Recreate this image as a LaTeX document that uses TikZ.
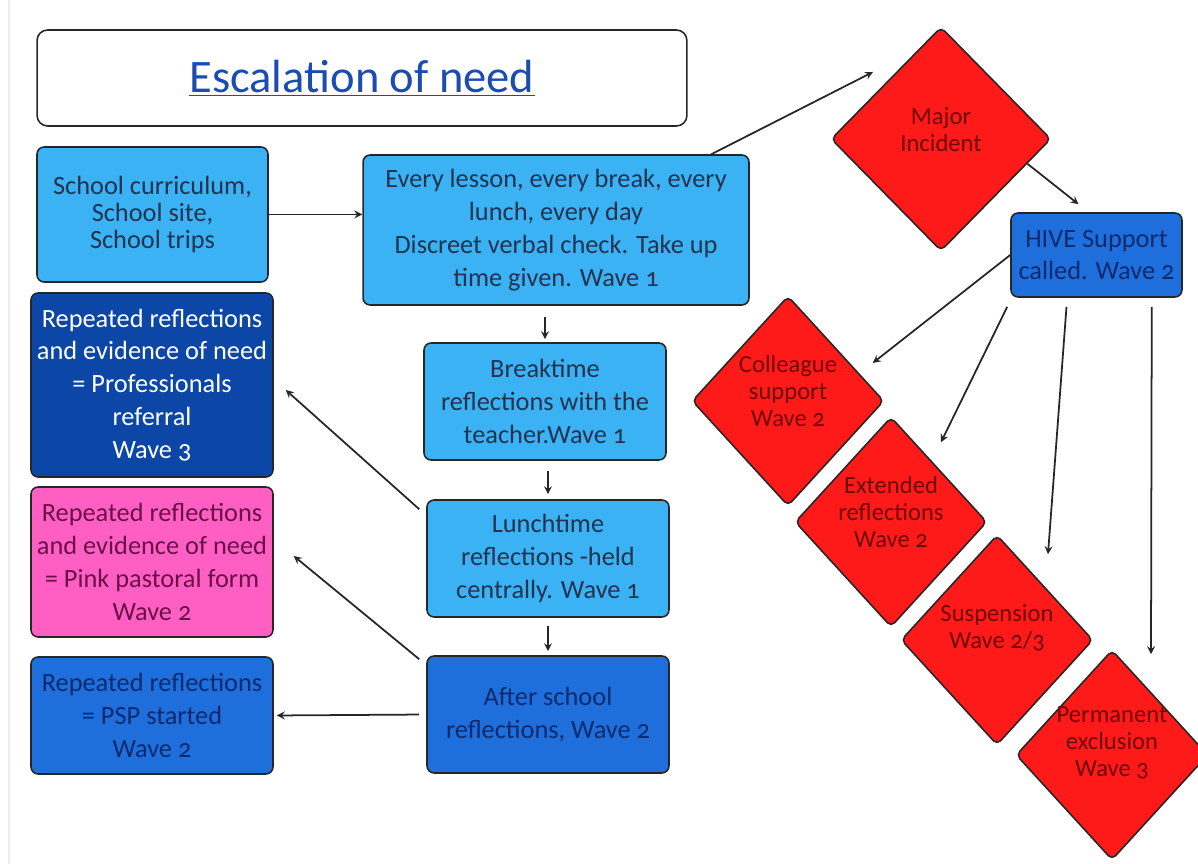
\documentclass[tikz,border=0pt]{standalone}
\usepackage{fontspec}
\setmainfont{Carlito}[Numbers=OldStyle]
\usetikzlibrary{shapes, shapes.geometric, arrows, calc}

\definecolor{skyfill}{HTML}{3AB2F4}
\definecolor{navyfill}{HTML}{0C47A8}
\definecolor{midfill}{HTML}{1E6EDC}
\definecolor{pinkfill}{HTML}{FF5FC2}
\definecolor{gemfill}{HTML}{FF1A1A}
\definecolor{skytext}{HTML}{22324F}
\definecolor{midtext}{HTML}{0E2A6E}
\definecolor{pinktext}{HTML}{6A1048}
\definecolor{gemtext}{HTML}{6E0404}
\definecolor{titleblue}{HTML}{1B4DB1}

\begin{document}
\begin{tikzpicture}[x=0.02cm, y=-0.02cm, >=stealth,
    box/.style={draw=black!85, rounded corners=4pt, line width=0.9pt, align=center,
        inner sep=0pt, font=\fontsize{15}{18.7}\selectfont},
    skybox/.style={box, fill=skyfill, text=skytext},
    navybox/.style={box, fill=navyfill, text=white},
    midbox/.style={box, fill=midfill, text=midtext},
    pinkbox/.style={box, fill=pinkfill, text=pinktext},
    gem/.style={diamond, draw=black!85, fill=gemfill, line width=0.9pt, rounded corners=3pt,
        inner sep=0pt, minimum width=3.84cm, minimum height=4.2cm},
    gemlabel/.style={align=center, text=gemtext, font=\fontsize{14}{15.4}\selectfont},
    arr/.style={->, line width=1pt, black!85}]

    \useasboundingbox (0,0) rectangle (1198,864);
    \draw[gray!15, line width=1pt] (9,0) -- (9,864);

    % title
    \node[box, fill=white, rounded corners=6pt, minimum width=13cm, minimum height=1.92cm,
        font=\fontsize{26.5}{30}\selectfont, text=titleblue] (title) at (362,78)
        {\underline{Escalation of need}};

    % everyday route
    \node[skybox, minimum width=4.62cm, minimum height=2.7cm, font=\fontsize{15}{15.4}\selectfont]
        (curr) at (152.5,214.5) {School curriculum,\\School site,\\School trips};
    \node[skybox, minimum width=7.72cm, minimum height=3cm] (lesson) at (556,230)
        {Every lesson, every break, every\\lunch, every day\\Discreet verbal check. Take up\\time given. Wave 1};
    \node[skybox, minimum width=4.84cm, minimum height=2.34cm] (brk) at (545,401.5)
        {Breaktime\\reflections with the\\teacher.Wave 1};
    \node[skybox, minimum width=4.84cm, minimum height=2.34cm] (lunch) at (548,558.5)
        {Lunchtime\\reflections -held\\centrally. Wave 1};
    \node[midbox, minimum width=4.84cm, minimum height=2.34cm] (after) at (548,714.5)
        {After school\\reflections, Wave 2};

    % outcomes on the left
    \node[navybox, minimum width=4.84cm, minimum height=3.68cm] (prof) at (152,385)
        {Repeated reflections\\and evidence of need\\= Professionals\\referral\\Wave 3};
    \node[pinkbox, minimum width=4.84cm, minimum height=3cm] (pink) at (152,562)
        {Repeated reflections\\and evidence of need\\= Pink pastoral form\\Wave 2};
    \node[midbox, minimum width=4.84cm, minimum height=2.34cm] (psp) at (152,715.5)
        {Repeated reflections\\= PSP started\\Wave 2};

    % major incident route
    \node[gem, minimum width=4.4cm, minimum height=4.48cm] (maj) at (941,139) {};
    \node[gemlabel] (majtxt) at ($(maj)+(0,-9)$) {Major\\Incident};
    \node[midbox, minimum width=3.42cm, minimum height=1.68cm] (hive) at (1096.5,255)
        {HIVE Support\\called. Wave 2};

    \node[gem] (col) at (788,401) {};
    \node[gemlabel] (coltxt) at ($(col)+(0,-10)$) {Colleague\\support\\Wave 2};
    \node[gem] (ext) at (891,522) {};
    \node[gemlabel] (exttxt) at ($(ext)+(0,-10)$) {Extended\\reflections\\Wave 2};
    \node[gem] (sus) at (997,640) {};
    \node[gemlabel] (sustxt) at ($(sus)+(0,-12)$) {Suspension\\Wave 2/3};
    \node[gem] (perm) at (1112,755) {};
    \node[gemlabel] (permtxt) at ($(perm)+(0,-12)$) {Permanent\\exclusion\\Wave 3};

    \coordinate (majin) at (873,72);

    % connectors
    \draw[arr] (curr.east) -- (curr.east -| lesson.west);
    \draw[arr] (lesson.26) -- (majin);
    \draw[arr] (maj.-16) -- ($(hive.north)+(-18,-8)$);
    \draw[arr, shorten <=0.22cm, shorten >=0.06cm] (brk.north |- lesson.south) -- (brk.north);
    \draw[arr, shorten <=0.2cm, shorten >=0.1cm] (lunch.north |- brk.south) -- (lunch.north);
    \draw[arr, shorten <=0.16cm, shorten >=0.08cm] (after.north |- lunch.south) -- (after.north);
    \draw[arr] ($(lunch.north west)+(-7,10)$) -- ($(prof.east)+(12,5)$);
    \draw[arr] ($(after.north west)+(-7,4)$) -- ($(pink.east)+(20,-6)$);
    \draw[arr, shorten <=0.14cm, shorten >=0.06cm] (after.west) -- (psp.east);
    \draw[arr] (hive.west) -- ($(col.east)+(-12,-38)$);
    \draw[arr] ($(hive.south west)+(-3,9)$) -- ($(ext.north)+(50,26)$);
    \draw[arr] ($(hive.south)+(-30,9)$) -- ($(sus.north)+(51,20)$);
    \draw[arr] ($(hive.south east)+(-31,9)$) -- ($(perm.north)+(39,5)$);
\end{tikzpicture}
\end{document}
